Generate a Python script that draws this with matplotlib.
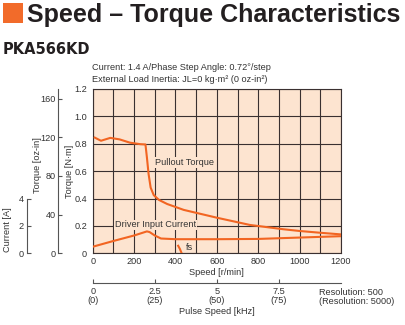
import matplotlib
matplotlib.use("Agg")
import matplotlib.pyplot as plt
from matplotlib.patches import Rectangle

# ---- data ----
pullout_speed = [10, 40, 85, 130, 180, 230, 255, 262, 270, 280, 295, 320, 360, 440, 600, 760, 920, 1000, 1100, 1200]
pullout_torque = [0.845, 0.822, 0.843, 0.832, 0.808, 0.797, 0.795, 0.70, 0.58, 0.48, 0.425, 0.39, 0.36, 0.317, 0.26, 0.207, 0.176, 0.163, 0.15, 0.138]

current_speed = [5, 100, 200, 262, 275, 300, 330, 400, 600, 800, 1000, 1200]
current_amp = [0.5, 0.9, 1.3, 1.6, 1.55, 1.3, 1.08, 1.03, 1.03, 1.05, 1.15, 1.25]

fs_speed = [413, 421, 430]
fs_torque = [0.055, 0.033, 0.0]

speed_ticks = [0, 200, 400, 600, 800, 1000, 1200]
torque_ticks = [0, 0.2, 0.4, 0.6, 0.8, 1.0, 1.2]
torque_labels = ["0", "0.2", "0.4", "0.6", "0.8", "1.0", "1.2"]
ozin_ticks = [0, 40, 80, 120, 160]
current_ticks = [0, 2, 4]
pulse_ticks = [0, 2.5, 5, 7.5]
pulse_labels = ["0\n(0)", "2.5\n(25)", "5\n(50)", "7.5\n(75)"]

NM_TO_OZIN = 141.612

# ---- style ----
W, H = 405, 325
FACE = "#fde4d0"
ORANGE = "#f26522"
GRID = "#3a3030"
TXT = "#333333"
FONT = ["Liberation Sans", "DejaVu Sans"]
FS = 6.6

plt.rcParams["font.family"] = FONT
plt.rcParams["font.size"] = FS

fig = plt.figure(figsize=(W / 100, H / 100), dpi=100)

def fx(px):
    return px / W

def fy(py):
    return (H - py) / H

L, R, B, T = 92.7, 341.0, 253.3, 89.0
pos = [fx(L), fy(B), fx(R) - fx(L), fy(T) - fy(B)]

ax = fig.add_axes(pos)
ax.set_facecolor(FACE)
ax.set_xlim(0, 1200)
ax.set_ylim(0, 1.2)
ax.set_xticks(speed_ticks)
ax.set_xticks(range(0, 1201, 100), minor=True)
ax.set_yticks(torque_ticks, torque_labels)
ax.grid(True, which="both", axis="x", color=GRID, lw=0.8)
ax.grid(True, which="major", axis="y", color=GRID, lw=0.8)
ax.tick_params(which="both", length=0, colors=TXT, labelsize=FS)
ax.tick_params(axis="y", pad=4)
ax.tick_params(axis="x", pad=3)
for s in ax.spines.values():
    s.set_color(GRID)
    s.set_linewidth(0.8)
ax.set_axisbelow(True)

ax.plot(pullout_speed, pullout_torque, color=ORANGE, lw=1.5, solid_joinstyle="round", zorder=3)
ax.plot(fs_speed, fs_torque, color=ORANGE, lw=1.5, zorder=3, clip_on=True)

bb = dict(facecolor=FACE, edgecolor="none", pad=0.6)
ax.text(301, 0.663, "Pullout Torque", ha="left", va="center", color=TXT, fontsize=FS, bbox=bb, zorder=2)
ax.text(108, 0.207, "Driver Input Current", ha="left", va="center", color=TXT, fontsize=FS, bbox=bb, zorder=2)
ax.text(451, 0.039, "fs", ha="left", va="center", color=TXT, fontsize=FS, zorder=2)

# oz-in axis
axo = ax.twinx()
axo.set_ylim(0, 1.2 * NM_TO_OZIN)
axo.yaxis.tick_left()
for k in ["top", "right", "bottom"]:
    axo.spines[k].set_visible(False)
axo.spines["left"].set_position(("outward", (L - 58.3) * 0.72))
axo.spines["left"].set_color("#555555")
axo.spines["left"].set_linewidth(0.8)
axo.set_yticks(ozin_ticks)
axo.tick_params(axis="y", direction="in", length=3, width=0.8, color="#555555", colors=TXT, labelsize=FS, pad=2)

# current axis
axc = ax.twinx()
axc.set_ylim(0, 12)
axc.yaxis.tick_left()
for k in ["top", "right", "bottom"]:
    axc.spines[k].set_visible(False)
axc.spines["left"].set_position(("outward", (L - 26.7) * 0.72))
axc.spines["left"].set_bounds(0, 4)
axc.spines["left"].set_color("#555555")
axc.spines["left"].set_linewidth(0.8)
axc.set_yticks(current_ticks)
axc.tick_params(axis="y", direction="in", length=3, width=0.8, color="#555555", colors=TXT, labelsize=FS, pad=2)
axc.plot(current_speed, current_amp, color=ORANGE, lw=1.5, zorder=3)

# pulse speed axis
axp = fig.add_axes([fx(L), fy(283), fx(R) - fx(L), 0.001])
axp.set_facecolor("none")
axp.set_xlim(0, 10)
axp.set_ylim(0, 1)
for k in ["top", "right", "left"]:
    axp.spines[k].set_visible(False)
axp.spines["bottom"].set_color("#555555")
axp.spines["bottom"].set_linewidth(0.8)
axp.set_yticks([])
axp.set_xticks(pulse_ticks, pulse_labels)
axp.tick_params(axis="x", direction="in", length=3, width=0.8, color="#555555", colors=TXT, labelsize=FS, pad=3)
for lbl in axp.get_xticklabels():
    lbl.set_linespacing(1.0)

# axis labels
fig.text(fx(216.5), fy(272.5), "Speed [r/min]", ha="center", va="center", color=TXT, fontsize=FS)
fig.text(fx(216.5), fy(311), "Pulse Speed [kHz]", ha="center", va="center", color=TXT, fontsize=FS)
fig.text(fx(319), fy(297), "Resolution: 500\n(Resolution: 5000)", ha="left", va="center",
         color=TXT, fontsize=FS, linespacing=1.0)
fig.text(fx(69), fy(171), "Torque [N·m]", rotation=90, ha="center", va="center", color=TXT, fontsize=FS)
fig.text(fx(37), fy(165), "Torque [oz-in]", rotation=90, ha="center", va="center", color=TXT, fontsize=FS)
fig.text(fx(8), fy(230), "Current [A]", rotation=90, ha="center", va="center", color=TXT, fontsize=FS)

# header texts
fig.text(fx(92), fy(68), "Current: 1.4 A/Phase Step Angle: 0.72°/step", ha="left", va="center", color=TXT, fontsize=FS)
fig.text(fx(92), fy(79), "External Load Inertia: JL=0 kg·m² (0 oz-in²)", ha="left", va="center", color=TXT, fontsize=FS)

# title
fig.patches.append(Rectangle((fx(3.3), fy(23.3)), fx(20), 20 / H, transform=fig.transFigure,
                             facecolor="#f26b2a", edgecolor="none"))
fig.text(fx(27), fy(22), "Speed – Torque Characteristics", ha="left", va="baseline",
         family=["Liberation Sans", "DejaVu Sans"], fontweight="bold", fontsize=18, color="#231f20")
fig.text(fx(3), fy(54), "PKA566KD", ha="left", va="baseline",
         family=["DejaVu Sans"], fontweight="bold", fontsize=10.5, color="#231f20")

fig.savefig("out.png", dpi=100)
